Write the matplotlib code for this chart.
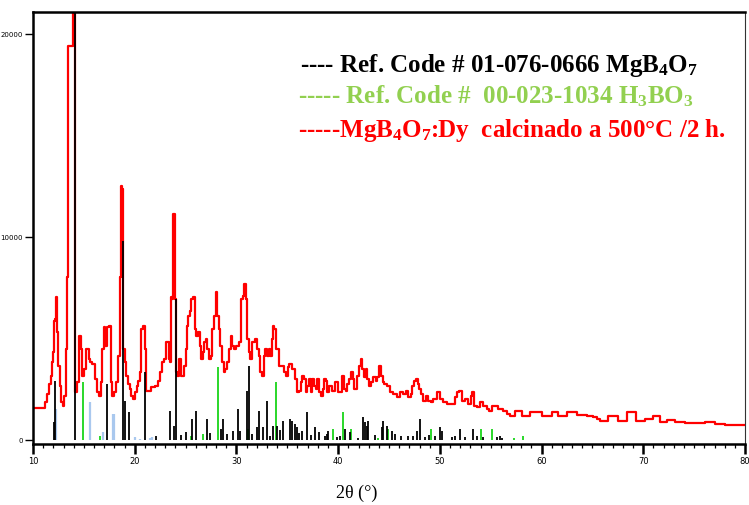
import numpy as np
import matplotlib.pyplot as plt
from matplotlib.ticker import MultipleLocator

plt.rcParams['mathtext.fontset'] = 'custom'
plt.rcParams['mathtext.rm'] = 'Liberation Serif:bold'
plt.rcParams['mathtext.it'] = 'Liberation Serif:italic:bold'
plt.rcParams['mathtext.bf'] = 'Liberation Serif:bold'

# measured pattern MgB4O7:Dy, 500 C / 2 h (2theta, counts)
tt_meas = [10.00, 11.15, 11.25, 11.47, 11.64, 11.80, 11.90, 12.03, 12.13, 12.23, 12.29, 12.39,
           12.56, 12.68, 12.85, 13.02, 13.12, 13.27, 13.44, 13.49, 13.88, 13.93, 14.06, 14.13,
           14.42, 14.59, 14.75, 14.92, 15.08, 15.41, 15.57, 15.73, 15.90, 16.07, 16.16, 16.39,
           16.56, 16.71, 16.88, 16.98, 17.21, 17.37, 17.54, 17.70, 17.86, 18.03, 18.19, 18.45,
           18.58, 18.68, 18.78, 18.85, 18.92, 19.07, 19.27, 19.41, 19.56, 19.76, 19.93, 20.10,
           20.25, 20.42, 20.55, 20.74, 20.91, 21.04, 21.14, 21.47, 21.80, 22.12, 22.39, 22.55,
           22.78, 22.95, 23.27, 23.44, 23.54, 23.63, 23.76, 23.86, 23.96, 24.03, 24.09, 24.25,
           24.42, 24.75, 24.91, 25.07, 25.17, 25.31, 25.46, 25.63, 25.90, 25.99, 26.12, 26.29,
           26.45, 26.61, 26.78, 26.91, 27.04, 27.20, 27.37, 27.53, 27.69, 27.86, 28.02, 28.19,
           28.35, 28.51, 28.68, 28.84, 29.00, 29.17, 29.34, 29.49, 29.66, 29.83, 30.05, 30.38,
           30.57, 30.71, 30.81, 30.97, 31.13, 31.30, 31.46, 31.63, 31.95, 32.12, 32.28, 32.44,
           32.61, 32.78, 32.93, 33.10, 33.27, 33.42, 33.54, 33.64, 33.79, 33.89, 34.08, 34.38,
           34.60, 34.77, 34.94, 35.10, 35.26, 35.59, 35.92, 36.08, 36.25, 36.41, 36.57, 36.74,
           36.90, 37.06, 37.23, 37.40, 37.55, 37.72, 37.89, 38.04, 38.21, 38.38, 38.54, 38.70,
           38.87, 39.03, 39.20, 39.52, 39.85, 40.18, 40.50, 40.67, 40.84, 40.99, 41.16, 41.33,
           41.49, 41.65, 41.98, 42.14, 42.31, 42.47, 42.64, 42.80, 42.96, 43.13, 43.29, 43.62,
           43.79, 43.94, 44.11, 44.28, 44.44, 44.60, 44.93, 45.26, 45.58, 45.91, 46.24, 46.57,
           46.73, 47.06, 47.23, 47.38, 47.55, 47.72, 47.88, 48.04, 48.21, 48.53, 48.70, 49.03,
           49.19, 49.52, 49.84, 50.18, 50.50, 50.82, 51.32, 51.65, 51.81, 51.97, 52.30, 52.63,
           52.96, 53.12, 53.28, 53.45, 53.77, 54.11, 54.43, 54.76, 54.92, 55.42, 56.07, 56.40,
           56.72, 57.06, 57.71, 58.36, 59.35, 60.65, 61.31, 61.97, 62.95, 63.94, 64.92, 65.24,
           65.57, 65.90, 67.21, 67.87, 69.01, 69.50, 70.82, 71.14, 72.13, 72.62, 73.60, 74.58,
           75.57, 76.55, 77.53, 78.51, 80.00]
i_meas = [1580, 1580, 1870, 2270, 2760, 3150, 3840, 4330, 5860, 5960, 7040, 5320,
          3650, 2660, 1870, 1670, 2170, 4480, 8030, 19410, 19410, 22500, 22500, 2360,
          2860, 5120, 4480, 3150, 3500, 4480, 3990, 3840, 3740, 3740, 3000, 2360,
          2170, 2860, 4480, 5570, 4630, 5570, 5620, 2860, 2170, 2360, 2860, 4140,
          8030, 12510, 12360, 8570, 4480, 3840, 3150, 2760, 2510, 2170, 2020, 2360,
          2660, 2910, 3350, 5470, 5620, 4480, 2410, 2410, 2610, 2660, 2910, 3350,
          3840, 3990, 4830, 3990, 3840, 7040, 6950, 11130, 11130, 6950, 3350, 3150,
          3990, 3150, 3650, 4480, 5620, 6110, 6350, 6950, 7040, 5470, 5120, 5320,
          4630, 3990, 4330, 4830, 4980, 4480, 3990, 4140, 5470, 6110, 7290, 6110,
          5470, 4630, 3840, 3350, 3500, 3840, 4480, 5120, 4630, 4480, 4630, 4830,
          6950, 7090, 7680, 6950, 4980, 4330, 3990, 4830, 4980, 4480, 4140, 3350,
          3150, 4140, 4480, 4140, 4480, 4140, 4980, 5620, 5470, 4480, 4480, 3650,
          3650, 3350, 3150, 3600, 3740, 3500, 3000, 2360, 2410, 2860, 3150, 3000,
          2360, 2660, 3000, 2360, 3000, 2660, 2510, 3000, 2360, 2170, 2510, 3000,
          2910, 2360, 2660, 2410, 2860, 2360, 3150, 2510, 2410, 2760, 3000, 3350,
          3000, 2510, 3150, 3650, 3990, 3500, 3100, 3500, 3000, 2660, 2860, 3100,
          2910, 3100, 3650, 3150, 2860, 2760, 2660, 2360, 2270, 2120, 2360, 2270,
          2410, 2120, 2270, 2660, 2910, 3000, 2760, 2510, 2270, 1920, 2170, 1920,
          1870, 2020, 2360, 2020, 1870, 1770, 1770, 2120, 2360, 2410, 1920, 2020,
          1770, 2170, 2360, 1670, 1630, 1870, 1670, 1530, 1430, 1670, 1530, 1430,
          1280, 1180, 1430, 1180, 1380, 1180, 1380, 1180, 1380, 1230, 1180, 1130,
          1030, 940, 1180, 940, 1380, 940, 1030, 1180, 890, 990, 890, 840,
          840, 890, 790, 740, 740]

# Ref. Code 01-076-0666 MgB4O7
tt_mgb = [12.02, 12.16, 14.10, 17.27, 18.82, 19.01, 19.41, 21.04, 22.09, 23.47, 23.86, 24.03,
          25.04, 25.63, 26.02, 27.08, 28.48, 28.68, 29.66, 30.15, 30.35, 31.01, 31.23, 31.49,
          31.99, 32.22, 32.58, 33.00, 33.30, 33.99, 34.58, 35.26, 35.43, 35.76, 35.92, 36.41,
          36.90, 37.72, 38.70, 38.87, 39.03, 39.85, 40.18, 40.67, 41.16, 41.98, 42.47, 42.64,
          42.80, 42.96, 44.28, 44.44, 44.77, 45.26, 45.58, 46.90, 47.38, 47.72, 48.04, 48.53,
          49.52, 50.00, 50.18, 51.16, 51.49, 51.97, 52.47, 53.28, 53.61, 54.27, 55.58, 55.91,
          56.10, 24.50, 27.40, 29.10, 33.60, 34.30, 36.10, 37.30, 38.10, 43.60, 46.20, 48.90]
i_mgb = [890, 2910, 22500, 2760, 9800, 1920, 1380, 3350, 200, 1430, 690, 6950,
         390, 1030, 1430, 1030, 540, 1030, 440, 1530, 440, 2410, 3650, 300,
         640, 1430, 640, 1920, 200, 690, 940, 1030, 940, 790, 640, 440,
         1380, 640, 200, 300, 440, 150, 200, 540, 390, 100, 1130, 890,
         690, 940, 640, 940, 690, 440, 300, 200, 200, 440, 1030, 150,
         200, 640, 440, 150, 200, 540, 150, 540, 200, 150, 150, 200,
         100, 250, 350, 300, 700, 500, 350, 250, 400, 250, 200, 250]

# Ref. Code 00-023-1034 H3BO3
tt_hbo = [14.96, 16.62, 25.53, 26.68, 28.19, 31.13, 33.89, 39.46, 40.44, 41.26, 43.94, 44.90,
          49.13, 54.04, 55.12, 57.30, 58.17]
i_hbo = [2860, 200, 200, 300, 3600, 540, 2860, 540, 1380, 540, 100, 540,
         540, 540, 540, 100, 200]

# third reference (light blue)
tt_blue = [12.26, 15.57, 16.88, 17.82, 17.92, 20.02, 20.50, 21.50, 21.70]
i_blue = [1530, 1870, 390, 1280, 1280, 150, 50, 100, 150]

fig = plt.figure(figsize=(7.49, 5.06), dpi=100)
ax = fig.add_axes([0.0441, 0.1206, 0.9506, 0.8544])

ax.plot(tt_meas, i_meas, color='#ff0000', lw=1.6, drawstyle='steps-mid', zorder=2)
ax.vlines(tt_blue, 0, i_blue, colors='#a9c8ee', lw=1.6, zorder=3)
ax.vlines(tt_hbo, 0, i_hbo, colors='#19d419', lw=1.3, zorder=4)
ax.vlines(tt_mgb, 0, i_mgb, colors='black', lw=1.3, zorder=5)

ax.set_xlim(10, 80)
ax.set_ylim(-200, 21100)
ax.set_xticks(np.arange(10, 81, 10))
ax.xaxis.set_minor_locator(MultipleLocator(1))
ax.set_yticks([0, 10000, 20000])
ax.tick_params(axis='x', which='major', direction='out', length=7, width=1.8, labelsize=6, pad=2)
ax.tick_params(axis='x', which='minor', direction='out', length=3, width=0.9)
ax.tick_params(axis='y', which='major', direction='out', length=6, width=1.0, labelsize=5, pad=1.5)

for s in ['left', 'bottom', 'top']:
    ax.spines[s].set_linewidth(1.8)
ax.spines['right'].set_linewidth(0.8)
ax.spines['right'].set_color('#333333')

fig.text(357 / 749, 1 - 493 / 506, '2θ (°)', fontsize=13, family='Liberation Serif',
         ha='center', va='center')

fs = 18
ax.text(0.375, 0.863, '---- Ref. Code # 01-076-0666 MgB$_4$O$_7$', transform=ax.transAxes,
        fontsize=fs, fontweight='bold', family='Liberation Serif', color='black', va='baseline')
ax.text(0.372, 0.789, '----- Ref. Code #  00-023-1034 H$_3$BO$_3$', transform=ax.transAxes,
        fontsize=fs, fontweight='bold', family='Liberation Serif', color='#92d050', va='baseline')
ax.text(0.372, 0.712, '-----MgB$_4$O$_7$:Dy  calcinado a 500°C /2 h.', transform=ax.transAxes,
        fontsize=fs, fontweight='bold', family='Liberation Serif', color='#ff0000', va='baseline')

fig.savefig('out.png', dpi=100)
